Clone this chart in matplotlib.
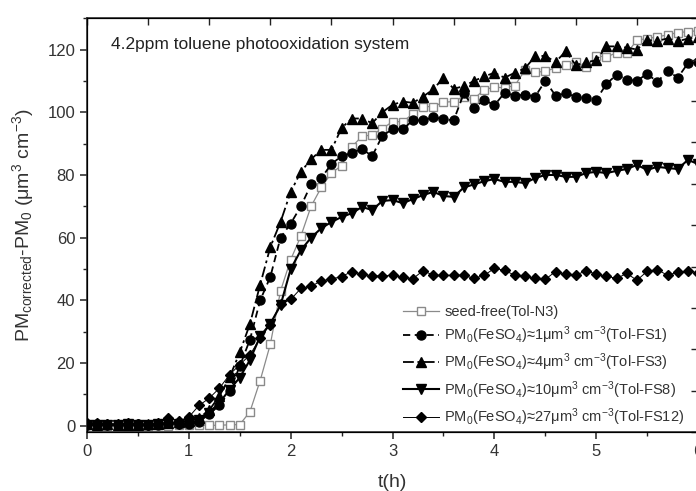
import numpy as np
import matplotlib
matplotlib.use("Agg")
import matplotlib.pyplot as plt
from matplotlib.ticker import MultipleLocator

plt.rcParams['font.family'] = ['Liberation Sans', 'DejaVu Sans']
plt.rcParams['mathtext.fontset'] = 'custom'
plt.rcParams['mathtext.rm'] = 'Liberation Sans'
plt.rcParams['mathtext.it'] = 'Liberation Sans:italic'

# ----------------------------------------------------------------------
# data (t in hours, PM in um^3 cm^-3)
# ----------------------------------------------------------------------
t = [0.0, 0.1, 0.2, 0.3, 0.4, 0.5, 0.6, 0.7, 0.8, 0.9,
     1.0, 1.1, 1.2, 1.3, 1.4, 1.5, 1.6, 1.7, 1.8, 1.9,
     2.0, 2.1, 2.2, 2.3, 2.4, 2.5, 2.6, 2.7, 2.8, 2.9,
     3.0, 3.1, 3.2, 3.3, 3.4, 3.5, 3.6, 3.7, 3.8, 3.9,
     4.0, 4.1, 4.2, 4.3, 4.4, 4.5, 4.6, 4.7, 4.8, 4.9,
     5.0, 5.1, 5.2, 5.3, 5.4, 5.5, 5.6, 5.7, 5.8, 5.9, 6.0]

seed_free = [0.2, 0.1, 0.0, 0.1, 0.0, 0.2, 0.0, 0.1, 0.0, 0.2,
             0.1, 0.2, 0.1, 0.2, 0.3, 0.4, 4.5, 14.4, 26.0, 43.0,
             53.0, 60.5, 70.0, 76.0, 80.6, 83.0, 89.0, 92.3, 92.8, 94.8,
             97.0, 97.0, 99.5, 101.8, 101.8, 103.2, 103.4, 105.0, 104.3, 107.2,
             108.0, 107.8, 108.5, 113.4, 112.8, 113.0, 114.2, 115.2, 116.0, 114.3,
             118.0, 117.6, 119.0, 118.8, 123.0, 123.5, 124.0, 124.7, 125.4, 125.7, 126.0]

fs1 = [0.3, 0.5, 0.2, 0.4, 0.1, 0.6, 0.3, 0.2, 0.8, 0.5,
       0.6, 1.2, 3.8, 6.5, 11.0, 19.0, 27.5, 40.0, 47.5, 60.0,
       64.5, 70.0, 77.0, 79.0, 83.5, 86.0, 87.0, 88.3, 86.0, 92.5,
       94.6, 94.6, 97.4, 97.4, 98.4, 97.8, 97.4, 106.0, 101.2, 104.0,
       102.2, 106.2, 105.3, 105.6, 105.0, 110.0, 105.3, 106.0, 105.0, 104.5,
       104.0, 109.0, 112.0, 110.4, 110.0, 112.3, 109.6, 113.3, 111.0, 115.6, 116.0]

fs3 = [0.5, 0.3, 0.6, 0.2, 0.4, 0.3, 0.5, 0.7, 1.0, 1.2,
       1.5, 2.5, 5.0, 9.5, 15.5, 23.4, 32.5, 45.0, 57.0, 65.0,
       74.6, 81.0, 85.0, 88.0, 88.0, 95.0, 98.0, 98.0, 96.5, 100.0,
       102.4, 103.4, 103.0, 105.0, 107.3, 111.0, 107.5, 108.3, 110.0, 111.4,
       112.6, 111.0, 112.6, 114.0, 117.8, 118.0, 116.0, 119.4, 115.0, 116.0,
       116.5, 121.0, 121.0, 120.6, 120.0, 123.0, 122.8, 123.5, 122.6, 123.5, 124.0]

fs8 = [0.2, 0.4, 0.1, 0.3, 0.5, 0.2, 0.4, 0.6, 0.8, 0.6,
       1.0, 1.8, 4.2, 7.4, 11.5, 15.4, 21.0, 28.5, 32.6, 38.4,
       50.0, 56.0, 60.0, 63.0, 65.0, 66.6, 67.8, 69.8, 68.8, 71.7,
       72.0, 71.0, 72.3, 73.6, 74.6, 73.3, 73.0, 76.0, 77.0, 78.0,
       78.7, 77.8, 77.8, 77.4, 79.0, 80.0, 80.0, 79.4, 79.4, 80.6,
       81.0, 80.6, 81.3, 81.9, 83.2, 81.6, 82.6, 82.2, 81.9, 84.8, 83.5]

fs12 = [0.8, 0.9, 0.7, 0.6, 0.8, 0.5, 0.4, 0.9, 2.4, 1.5,
        2.8, 6.5, 8.8, 12.0, 16.3, 19.5, 22.6, 28.0, 32.3, 38.8,
        40.3, 43.8, 44.5, 46.2, 46.8, 47.6, 49.2, 48.3, 47.8, 47.8,
        48.0, 47.3, 46.9, 49.5, 48.0, 48.0, 48.0, 48.0, 47.0, 48.0,
        50.2, 49.6, 48.0, 47.7, 47.0, 46.7, 49.2, 48.3, 48.0, 49.5,
        48.3, 47.7, 47.0, 48.6, 46.4, 49.3, 49.8, 48.0, 49.0, 49.3, 48.8]

labels = [
    'seed-free(Tol-N3)',
    r'PM$_0$(FeSO$_4$)≈1μm$^3$ cm$^{-3}$(Tol-FS1)',
    r'PM$_0$(FeSO$_4$)≈4μm$^3$ cm$^{-3}$(Tol-FS3)',
    r'PM$_0$(FeSO$_4$)≈10μm$^3$ cm$^{-3}$(Tol-FS8)',
    r'PM$_0$(FeSO$_4$)≈27μm$^3$ cm$^{-3}$(Tol-FS12)',
]

# ----------------------------------------------------------------------
# plot
# ----------------------------------------------------------------------
fig = plt.figure(figsize=(6.96, 4.91), dpi=100)
ax = fig.add_axes([0.125, 0.120, 0.878, 0.843])

ax.plot(t, seed_free, color='#8a8a8a', lw=0.9, ls='-', marker='s', ms=5.5,
        mfc='white', mec='#8a8a8a', mew=1.0, label=labels[0], zorder=2)
ax.plot(t, fs1, color='black', lw=1.3, ls=(0, (4, 2.5)), marker='o', ms=6.5,
        label=labels[1], zorder=3)
ax.plot(t, fs3, color='black', lw=1.3, ls=(0, (6, 2, 1.5, 2)), marker='^', ms=7,
        label=labels[2], zorder=3)
ax.plot(t, fs8, color='black', lw=1.5, ls='-', marker='v', ms=7,
        label=labels[3], zorder=3)
ax.plot(t, fs12, color='black', lw=0.7, ls='-', marker='D', ms=5.5,
        label=labels[4], zorder=3)

ax.set_xlim(0, 6)
ax.set_ylim(-2, 130)
ax.xaxis.set_major_locator(MultipleLocator(1))
ax.xaxis.set_minor_locator(MultipleLocator(0.5))
ax.yaxis.set_major_locator(MultipleLocator(20))
ax.yaxis.set_minor_locator(MultipleLocator(10))
ax.tick_params(which='major', direction='out', length=5, width=1.1,
               labelsize=12, colors='#222222', labelcolor='#333333')
ax.tick_params(which='minor', direction='out', length=3, width=1.0, colors='#222222')
for s in ax.spines.values():
    s.set_linewidth(1.2)
    s.set_color('#333333')

# top / right axes with their own tick spacing
axt = ax.twiny()
axt.set_xlim(ax.get_xlim())
axt.set_xticks(np.linspace(0, 6, 11))
axt.tick_params(direction='in', length=5, width=1.0, labeltop=False, colors='#222222')
axr = ax.twinx()
axr.set_ylim(ax.get_ylim())
axr.set_yticks(np.linspace(-2, 130, 11))
axr.tick_params(direction='in', length=5, width=1.0, labelright=False, colors='#222222')

ax.set_xlabel('t(h)', fontsize=14, color='#333333', labelpad=11)
ax.set_ylabel(r'PM$_{\mathrm{corrected}}$-PM$_0$ (μm$^3$ cm$^{-3}$)', fontsize=14,
              color='#333333', labelpad=8)
ax.text(0.04, 0.955, '4.2ppm toluene photooxidation system', transform=ax.transAxes,
        fontsize=12.5, color='#222222', va='top', ha='left')

leg = ax.legend(loc='lower right', bbox_to_anchor=(0.985, 0.0), frameon=False,
                fontsize=10.5, handlelength=2.5, handletextpad=0.35,
                labelspacing=0.38, borderaxespad=0.1, borderpad=0.2)
for txt in leg.get_texts():
    txt.set_color('#333333')

fig.savefig('out.png', dpi=100)
